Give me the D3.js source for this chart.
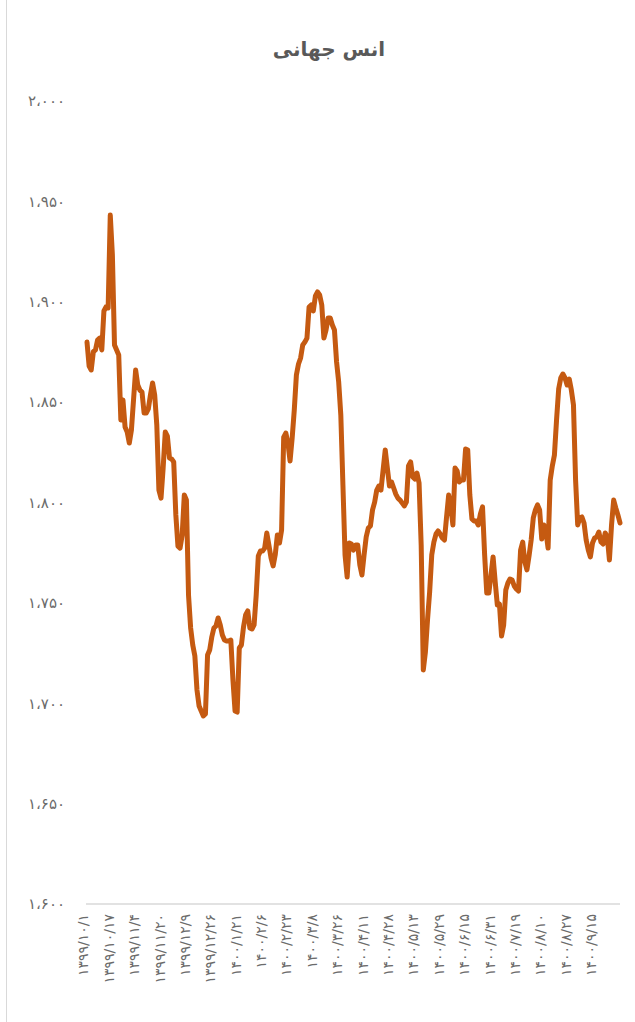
<!DOCTYPE html>
<html><head><meta charset="utf-8">
<script src="https://cdn.jsdelivr.net/npm/d3@7"></script>
<style>body{margin:0;background:#fff}svg{display:block}</style>
</head><body><div id="chart"></div>
<script>
const title = "انس جهانی";
const tickLabels = ["۱۳۹۹/۱۰/۱","۱۳۹۹/۱۰/۱۷","۱۳۹۹/۱۱/۴","۱۳۹۹/۱۱/۲۰","۱۳۹۹/۱۲/۹","۱۳۹۹/۱۲/۲۶","۱۴۰۰/۱/۲۱","۱۴۰۰/۲/۶","۱۴۰۰/۲/۲۳","۱۴۰۰/۳/۸","۱۴۰۰/۳/۲۶","۱۴۰۰/۴/۱۱","۱۴۰۰/۴/۲۸","۱۴۰۰/۵/۱۳","۱۴۰۰/۵/۲۹","۱۴۰۰/۶/۱۵","۱۴۰۰/۶/۳۱","۱۴۰۰/۷/۱۹","۱۴۰۰/۸/۱۰","۱۴۰۰/۸/۲۷","۱۴۰۰/۹/۱۵"];
const labelEvery = 12;
const yTicks = [1600,1650,1700,1750,1800,1850,1900,1950,2000];
const yTickLabels = ["۱،۶۰۰","۱،۶۵۰","۱،۷۰۰","۱،۷۵۰","۱،۸۰۰","۱،۸۵۰","۱،۹۰۰","۱،۹۵۰","۲،۰۰۰"];
const ounce = [
1879.9,1868.0,1866.0,1875.1,1876.0,1880.9,1881.9,1876.0,1895.4,1897.4,
1896.9,1943.2,1923.3,1878.5,1876.0,1873.5,1841.1,1851.1,1837.6,1835.1,
1829.6,1836.1,1851.1,1866.0,1858.5,1856.0,1855.0,1844.6,1844.6,1846.6,
1853.6,1859.5,1853.6,1838.6,1806.2,1802.2,1817.2,1835.1,1833.1,1822.2,
1821.7,1820.2,1793.8,1778.3,1777.3,1783.8,1803.7,1801.2,1753.9,1737.5,
1729.0,1723.5,1706.6,1698.6,1696.1,1693.7,1694.7,1724.0,1726.5,1733.0,
1737.5,1738.5,1742.5,1739.0,1734.0,1731.5,1731.0,1731.0,1731.5,1711.6,
1696.1,1695.6,1727.5,1729.0,1738.0,1744.0,1746.0,1737.5,1737.0,1739.0,
1753.9,1773.4,1775.8,1775.8,1777.3,1784.8,1778.8,1772.4,1768.4,1773.9,
1783.8,1779.8,1786.3,1832.6,1834.6,1829.6,1820.7,1832.1,1846.1,1863.5,
1869.0,1872.0,1878.5,1879.9,1881.9,1897.4,1898.4,1895.4,1902.9,1904.9,
1903.4,1898.4,1881.9,1885.9,1891.9,1891.9,1888.4,1885.9,1870.0,1860.0,
1843.6,1808.7,1773.9,1762.9,1779.8,1779.3,1776.3,1778.8,1778.8,1768.9,
1763.9,1773.9,1782.8,1787.3,1788.3,1796.3,1800.2,1806.2,1808.2,1806.2,
1816.2,1826.2,1817.2,1808.2,1810.2,1807.2,1804.2,1802.2,1801.2,1799.8,
1798.3,1800.2,1818.2,1820.2,1812.7,1811.7,1814.7,1809.7,1778.8,1716.6,
1725.5,1741.5,1755.4,1773.9,1780.3,1784.3,1785.8,1784.3,1782.3,1781.3,
1792.8,1803.7,1797.8,1788.8,1817.2,1815.7,1810.2,1811.2,1811.2,1826.7,
1826.2,1803.7,1791.8,1790.8,1790.8,1788.8,1794.3,1797.8,1773.9,1754.9,
1754.9,1763.9,1772.9,1760.4,1748.9,1749.4,1733.5,1739.0,1756.4,1759.9,
1761.9,1761.4,1758.4,1756.9,1755.9,1776.3,1780.3,1770.4,1766.4,1773.4,
1781.3,1792.3,1796.3,1798.8,1796.3,1781.8,1788.8,1785.3,1777.3,1811.2,
1818.2,1823.7,1841.1,1856.5,1862.0,1864.0,1862.0,1858.5,1861.5,1856.0,
1848.6,1811.2,1788.8,1792.3,1792.8,1789.8,1781.3,1776.3,1772.9,1779.8,
1782.3,1782.8,1785.3,1780.3,1779.3,1784.8,1782.8,1771.4,1788.8,1801.2,
1797.3,1793.8,1789.8
];

const W = 635, H = 1022;
const svg = d3.select("#chart").append("svg").attr("width", W).attr("height", H);
const x = d3.scaleLinear().domain([0, ounce.length - 1]).range([87, 620]);
const y = d3.scaleLinear().domain([1600, 2000]).range([904, 101]);
const FONT = "'DejaVu Sans', 'Noto Sans', sans-serif";

// chart area left border
svg.append("line").attr("x1", 6.5).attr("x2", 6.5).attr("y1", 0).attr("y2", H)
  .attr("stroke", "#d9d9d9").attr("stroke-width", 1);

// title
svg.append("text").attr("x", 329).attr("y", 56).attr("text-anchor", "middle")
  .attr("font-family", FONT).attr("font-weight", "bold").attr("font-size", 20)
  .attr("fill", "#595959").text(title);

// y axis labels
const yAxis = d3.axisLeft(y).tickValues(yTicks)
  .tickFormat((d, i) => yTickLabels[i]).tickSize(0).tickPadding(0);
const gy = svg.append("g").attr("transform", "translate(65,0)").call(yAxis);
gy.select(".domain").remove();
gy.selectAll("text").attr("font-family", FONT).attr("font-size", 15).attr("fill", "#6b6b6b");

// x axis line
svg.append("line").attr("x1", 86).attr("x2", 620).attr("y1", y(1600)).attr("y2", y(1600))
  .attr("stroke", "#d9d9d9").attr("stroke-width", 1.5);

// x labels
const tickIdx = tickLabels.map((d, i) => i * labelEvery);
const xAxis = d3.axisBottom(x).tickValues(tickIdx)
  .tickFormat((d, i) => tickLabels[i]).tickSize(0).tickPadding(0);
const gx = svg.append("g").attr("transform", `translate(-4,${y(1600) + 10})`).call(xAxis);
gx.select(".domain").remove();
gx.selectAll("text")
  .attr("font-family", FONT).attr("font-size", 14).attr("fill", "#6b6b6b")
  .attr("text-anchor", "end").attr("transform", "rotate(-90)")
  .attr("x", 0).attr("y", 0).attr("dy", "0.35em");

// line
const line = d3.line().x((d, i) => x(i)).y(d => y(d));
svg.append("path").datum(ounce).attr("d", line).attr("fill", "none")
  .attr("stroke", "#C55A11").attr("stroke-width", 5)
  .attr("stroke-linejoin", "round").attr("stroke-linecap", "round");
</script></body></html>
